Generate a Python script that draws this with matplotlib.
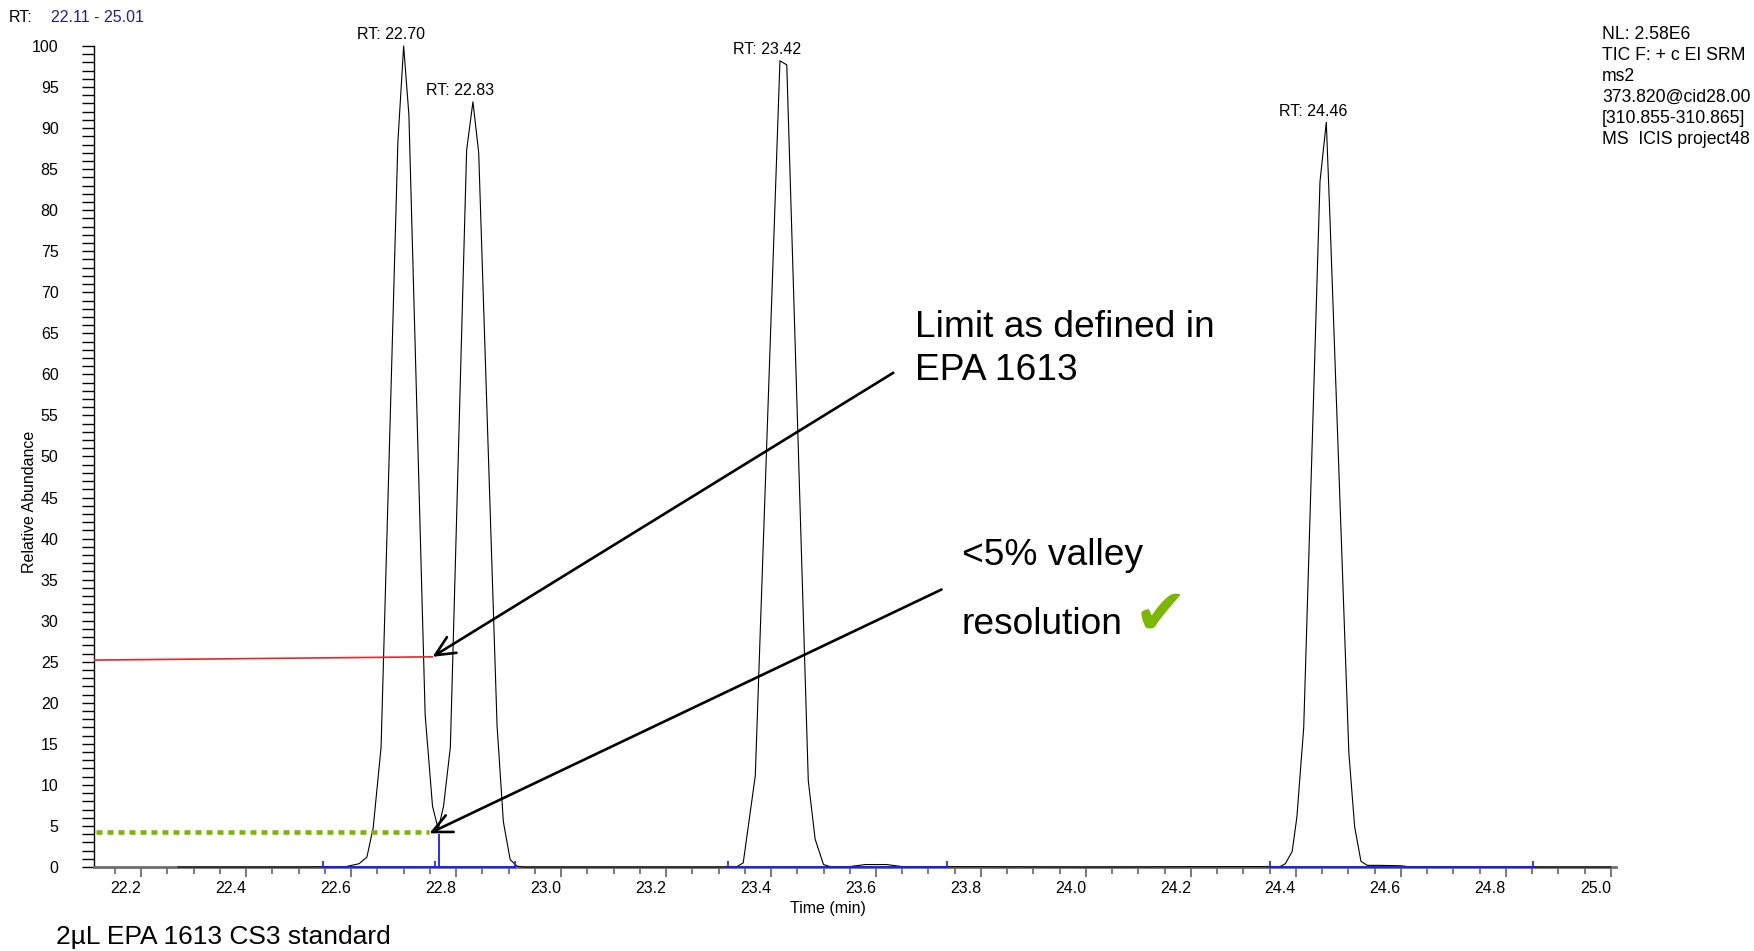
import matplotlib
matplotlib.use("Agg")
import matplotlib.pyplot as plt
from matplotlib.ticker import MultipleLocator

plt.rcParams['font.family'] = ['Liberation Sans', 'DejaVu Sans']

# chromatogram trace (time in min, relative abundance in %)
time_min = [22.27, 22.50, 22.59, 22.615, 22.630, 22.642, 22.657, 22.689, 22.700, 22.710,
            22.741, 22.755, 22.766, 22.776, 22.789, 22.820, 22.832, 22.843, 22.878, 22.890,
            22.903, 22.916, 22.93, 23.30, 23.335, 23.347, 23.370, 23.417, 23.430, 23.471,
            23.484, 23.500, 23.515, 23.55, 23.58, 23.62, 23.65, 24.00, 24.37, 24.380,
            24.393, 24.402, 24.415, 24.446, 24.458, 24.465, 24.501, 24.512, 24.524, 24.536,
            24.56, 24.60, 24.62, 25.00]
rel_abundance = [0.0, 0.0, 0.05, 0.4, 1.2, 4.8, 14.6, 88.3, 100.0, 91.6,
                 18.5, 7.4, 4.6, 7.4, 14.6, 87.3, 93.2, 87.0, 17.2, 5.5,
                 0.9, 0.1, 0.0, 0.0, 0.05, 0.5, 11.1, 98.2, 97.7, 10.5,
                 3.4, 0.3, 0.0, 0.05, 0.3, 0.3, 0.05, 0.0, 0.05, 0.4,
                 1.9, 6.1, 17.0, 83.5, 90.7, 79.0, 13.9, 4.9, 0.7, 0.2,
                 0.2, 0.15, 0.0, 0.0]

peak_labels = ['RT: 22.70', 'RT: 22.83', 'RT: 23.42', 'RT: 24.46']
peak_windows = [(22.60, 22.766), (22.767, 22.95), (23.30, 23.60), (24.30, 24.60)]

# integration baselines and peak boundaries (blue)
baseline_segments = [(22.546, 22.913), (23.318, 23.735), (24.351, 24.852)]
boundary_marks = [22.546, 22.759, 22.913, 23.318, 23.735, 24.351, 24.852]
split_time = 22.767
split_height = 4.0

# reference lines
limit_t = [22.11, 22.755]
limit_v = [25.2, 25.6]
valley_t = [22.113, 22.749]
valley_v = [4.3, 4.3]

xtick_values = [22.2, 22.4, 22.6, 22.8, 23.0, 23.2, 23.4, 23.6, 23.8, 24.0, 24.2, 24.4, 24.6, 24.8, 25.0]
header_text = "NL: 2.58E6\nTIC F: + c EI SRM\nms2\n373.820@cid28.00\n[310.855-310.865]\nMS  ICIS project48"

W, H = 1754, 951


def fx(px):
    return px / W


def fy(py):
    return 1 - py / H


fig = plt.figure(figsize=(W / 100, H / 100), dpi=100)
ax = fig.add_axes([fx(94), fy(867), (1616 - 94) / W, (867 - 46) / H])

ax.plot(time_min, rel_abundance, color='black', lw=0.8, clip_on=False, zorder=3)

# blue integration marks
blue = '#1a1aff'
for a, b in baseline_segments:
    ax.plot([a, b], [0, 0], color=blue, lw=1.3, clip_on=False, zorder=4)
ax.vlines(boundary_marks, 0, 0.7, color=blue, lw=1.2, clip_on=False, zorder=4)
ax.vlines(split_time, 0, split_height, color=blue, lw=1.3, clip_on=False, zorder=4)

# peak labels
for label, (lo, hi) in zip(peak_labels, peak_windows):
    idx = [i for i, t in enumerate(time_min) if lo <= t <= hi]
    top = max(idx, key=lambda i: rel_abundance[i])
    ax.annotate(label, xy=(time_min[top], rel_abundance[top]), xytext=(-9.4, 8),
                textcoords='offset points', ha='center', va='center',
                fontsize=11.5, annotation_clip=False)

# reference lines
ax.plot(limit_t, limit_v, color='#e8262a', lw=1.2, zorder=5)
ax.plot(valley_t, valley_v, color='#7ab800', lw=3.3, dashes=(1.3, 1.1),
        dash_capstyle='butt', zorder=5)

arrow_style = dict(arrowstyle='->,head_length=0.7,head_width=0.33', lw=1.9,
                   color='black', shrinkA=0, shrinkB=0, mutation_scale=20)
ax.annotate('', xy=(22.755, 25.6), xytext=(23.633, 60.2), arrowprops=arrow_style, zorder=6)
ax.annotate('', xy=(22.749, 4.1), xytext=(23.725, 33.8), arrowprops=arrow_style, zorder=6)

# axes styling
ax.set_xlim(22.11, 25.01)
ax.set_ylim(0, 100)
ax.spines['top'].set_visible(False)
ax.spines['right'].set_visible(False)
ax.spines['left'].set_linewidth(1.0)
ax.spines['bottom'].set_color('#6e6e6e')
ax.spines['bottom'].set_linewidth(2.0)

ax.set_xticks(xtick_values)
ax.set_xticklabels([f"{v:.1f}" for v in xtick_values])
ax.xaxis.set_minor_locator(MultipleLocator(0.05))
ax.yaxis.set_major_locator(MultipleLocator(5))
ax.yaxis.set_minor_locator(MultipleLocator(1))

ax.tick_params(axis='x', which='major', length=7, width=1.1, color='#555555', pad=3, labelsize=11.5)
ax.tick_params(axis='x', which='minor', length=5, width=1.1, color='#555555')
ax.tick_params(axis='y', which='both', length=9, width=1.0, pad=16.5, labelsize=11.5)
plt.setp(ax.get_xticklabels(), ha='right')

# texts
fig.text(fx(30), fy(502), "Relative Abundance", rotation=90, ha='center', va='center', fontsize=11.5)
fig.text(fx(828), fy(909), "Time (min)", ha='center', va='center', fontsize=11.5)
fig.text(fx(9), fy(17), "RT:", ha='left', va='center', fontsize=11.5)
fig.text(fx(51), fy(17), "22.11 - 25.01", ha='left', va='center', fontsize=11.5, color='#1c1ca8')
fig.text(fx(1602), fy(26), header_text, ha='left', va='top', fontsize=12.7, linespacing=1.31)
fig.text(fx(56), fy(937), "2µL EPA 1613 CS3 standard", ha='left', va='center', fontsize=19)

fig.text(fx(915), fy(337), "Limit as defined in", ha='left', va='baseline', fontsize=26.7)
fig.text(fx(915), fy(380), "EPA 1613", ha='left', va='baseline', fontsize=26.7)
fig.text(fx(962), fy(565), "<5% valley", ha='left', va='baseline', fontsize=26.7)
fig.text(fx(962), fy(634), "resolution", ha='left', va='baseline', fontsize=26.7)
fig.text(fx(1134), fy(634), "\u2714", ha='left', va='baseline', fontsize=46,
         color='#7ab800', family='DejaVu Sans')

fig.savefig('out.png', dpi=100)
plt.close(fig)
